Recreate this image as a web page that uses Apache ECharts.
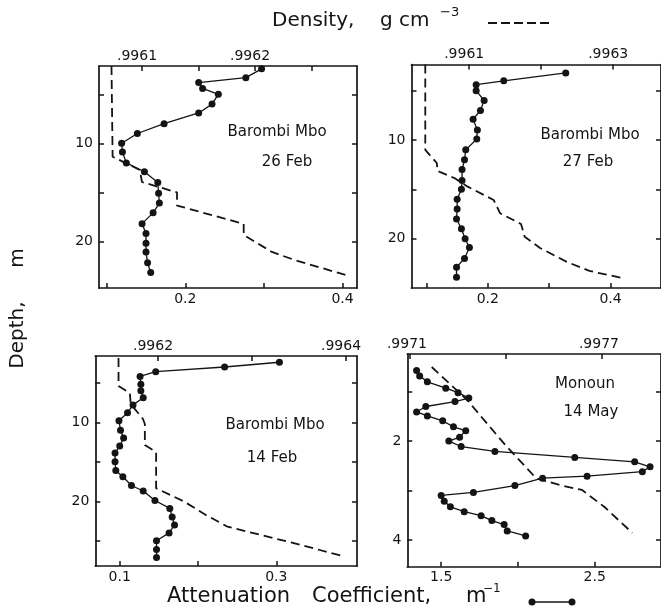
<!DOCTYPE html>
<html>
<head>
<meta charset="utf-8">
<script src="https://cdn.jsdelivr.net/npm/echarts@6/dist/echarts.min.js"></script>
<style>
  html, body { margin: 0; padding: 0; background: #ffffff; }
  #chart { width: 661px; height: 616px; }
</style>
</head>
<body>
<div id="chart"></div>
<script>
// ---- Barombi Mbo, 26 Feb ----
const feb26Depth = [2.4, 3.3, 3.8, 4.4, 5.0, 6.0, 6.9, 8.0, 9.0, 10.0, 10.9, 12.0, 12.9, 14.0, 15.1, 16.1, 17.1, 18.2, 19.2, 20.2, 21.1, 22.2, 23.2];
const feb26Atten = [0.297, 0.277, 0.217, 0.222, 0.242, 0.234, 0.217, 0.173, 0.139, 0.119, 0.120, 0.125, 0.148, 0.165, 0.166, 0.167, 0.159, 0.145, 0.150, 0.150, 0.150, 0.152, 0.156];
const feb26DensDepth = [2.11, 11.37, 12.72, 13.95, 15.02, 16.35, 18.23, 19.36, 21.09, 21.91, 23.44];
const feb26Dens = [0.996073, 0.996074, 0.996098, 0.996100, 0.996131, 0.996131, 0.996190, 0.996190, 0.996215, 0.996235, 0.996280];

// ---- Barombi Mbo, 27 Feb ----
const feb27Depth = [3.2, 4.0, 4.4, 5.0, 6.0, 7.0, 7.9, 9.0, 9.9, 11.0, 12.0, 13.0, 14.1, 15.0, 16.0, 17.0, 18.0, 19.0, 20.0, 20.9, 22.0, 22.9, 23.9];
const feb27Atten = [0.327, 0.226, 0.181, 0.181, 0.194, 0.188, 0.176, 0.183, 0.182, 0.164, 0.162, 0.158, 0.158, 0.157, 0.150, 0.150, 0.149, 0.157, 0.163, 0.170, 0.162, 0.149, 0.149];
const feb27DensDepth = [2.35, 11.01, 12.33, 13.14, 13.88, 14.73, 16.08, 17.43, 18.51, 19.80, 20.97, 22.33, 23.27, 24.01];
const feb27Dens = [0.996039, 0.996039, 0.996055, 0.996056, 0.996080, 0.996098, 0.996134, 0.996143, 0.996172, 0.996177, 0.996199, 0.996235, 0.996267, 0.996314];

// ---- Barombi Mbo, 14 Feb ----
const feb14Depth = [2.4, 3.0, 3.6, 4.2, 5.2, 6.0, 6.9, 7.8, 8.8, 9.8, 11.0, 12.0, 13.0, 13.9, 15.0, 16.1, 16.9, 18.0, 18.7, 19.9, 20.9, 22.0, 23.0, 24.0, 25.0, 26.1, 27.1];
const feb14Atten = [0.304, 0.234, 0.146, 0.126, 0.127, 0.127, 0.130, 0.117, 0.110, 0.099, 0.101, 0.105, 0.100, 0.094, 0.094, 0.095, 0.104, 0.115, 0.130, 0.145, 0.164, 0.167, 0.170, 0.163, 0.147, 0.147, 0.147];
const feb14DensDepth = [1.86, 5.41, 6.29, 7.68, 9.58, 10.22, 12.87, 13.76, 18.35, 20.05, 21.73, 23.22, 24.27, 25.53, 27.01];
const feb14Dens = [0.996158, 0.996158, 0.996170, 0.996171, 0.996184, 0.996186, 0.996186, 0.996198, 0.996198, 0.996228, 0.996251, 0.996274, 0.996310, 0.996352, 0.996399];

// ---- Monoun, 14 May ----
const may14Depth = [0.57, 0.68, 0.80, 0.93, 1.02, 1.13, 1.20, 1.30, 1.41, 1.49, 1.59, 1.71, 1.79, 1.92, 2.00, 2.11, 2.21, 2.33, 2.42, 2.52, 2.62, 2.71, 2.75, 2.90, 3.04, 3.10, 3.22, 3.33, 3.43, 3.51, 3.61, 3.69, 3.82, 3.92];
const may14Atten = [1.34, 1.36, 1.41, 1.53, 1.61, 1.68, 1.59, 1.40, 1.34, 1.41, 1.51, 1.58, 1.66, 1.62, 1.55, 1.63, 1.85, 2.37, 2.76, 2.86, 2.81, 2.45, 2.16, 1.98, 1.71, 1.50, 1.52, 1.56, 1.65, 1.76, 1.83, 1.91, 1.93, 2.05];
const may14DensDepth = [0.50, 1.17, 2.08, 2.75, 2.89, 2.99, 3.34, 3.86];
const may14Dens = [0.997168, 0.997279, 0.997398, 0.997494, 0.997568, 0.997638, 0.997709, 0.997795];

// ---- axis ticks and labels ----
const attenTicks = [[0.1, 0.2, 0.3, 0.4], [0.1, 0.2, 0.3, 0.4], [0.1, 0.2, 0.3], [1.5, 2.0, 2.5]];
const attenLabels = [[0.2, 0.4], [0.2, 0.4], [0.1, 0.3], [1.5, 2.5]];
const densTicks = [[0.9961, 0.99615, 0.9962, 0.99625], [0.9961, 0.9962, 0.9963], [0.9962, 0.9963, 0.9964], [0.9971, 0.9974, 0.9977]];
const densLabels = [[0.9961, 0.9962], [0.9961, 0.9963], [0.9962, 0.9964], [0.9971, 0.9977]];
const depthTicks = [[5, 10, 15, 20], [5, 10, 15, 20], [5, 10, 15, 20, 25], [1, 2, 3, 4]];
const depthLabels = [[10, 20], [10, 20], [10, 20], [2, 4]];
const panelTitles = [['Barombi Mbo', '26 Feb'], ['Barombi Mbo', '27 Feb'], ['Barombi Mbo', '14 Feb'], ['Monoun', '14 May']];

// ---- panel layout (pixels) and axis extents ----
const panels = [
  { grid: { left: 99, top: 66, width: 258, height: 222 },
    atten: [0.0902, 0.4184], dens: [0.99606195, 0.99629027], depth: [2.11, 24.77],
    title: [[277, 132], [287, 162]], densShift: 10,
    profile: [feb26Atten, feb26Depth], density: [feb26Dens, feb26DensDepth] },
  { grid: { left: 411.5, top: 64.5, width: 253, height: 223.5 },
    atten: [0.0756, 0.4823], dens: [0.99601986, 0.99636644], depth: [2.35, 25.0],
    title: [[590, 135], [588, 162]], densShift: 10,
    profile: [feb27Atten, feb27Depth], density: [feb27Dens, feb27DensDepth] },
  { grid: { left: 95.3, top: 356, width: 261.7, height: 210 },
    atten: [0.0688, 0.4031], dens: [0.9961333, 0.9964117], depth: [1.61, 28.19],
    title: [[275, 425], [272, 458]], densShift: 10,
    profile: [feb14Atten, feb14Depth], density: [feb14Dens, feb14DensDepth] },
  { grid: { left: 407.3, top: 354, width: 257.7, height: 212.7 },
    atten: [1.2795, 2.9314], dens: [0.9970917, 0.9978846], depth: [0.237, 4.543],
    title: [[585, 384], [591, 412]], densShift: 6,
    profile: [may14Atten, may14Depth], density: [may14Dens, may14DensDepth] }
];

const INK = '#141414';
const FONT = 'DejaVu Sans';

function zip(xs, ys) { return xs.map((x, i) => [x, ys[i]]); }

function frameAxis(o) {
  return {
    type: 'value', gridIndex: o.grid, position: o.position, min: o.min, max: o.max,
    inverse: !!o.inverse,
    axisLine: { show: true, onZero: false, lineStyle: { color: INK, width: 1.7 } },
    axisTick: { show: true, inside: true, length: 5, customValues: o.ticks, lineStyle: { color: INK, width: 1.5 } },
    axisLabel: {
      show: !!o.labels, customValues: o.labels || [], margin: o.margin || 5,
      color: INK, fontFamily: FONT, fontSize: 14, formatter: o.formatter,
      padding: o.padding || 0
    },
    splitLine: { show: false }
  };
}

const grids = [], xAxes = [], yAxes = [], series = [], graphics = [];

panels.forEach((p, g) => {
  grids.push(Object.assign({ containLabel: false, show: false }, p.grid));
  // bottom: attenuation coefficient
  xAxes.push(frameAxis({ grid: g, position: 'bottom', min: p.atten[0], max: p.atten[1],
    ticks: attenTicks[g], labels: attenLabels[g], margin: 4,
    formatter: v => v.toFixed(1) }));
  // top: density
  xAxes.push(frameAxis({ grid: g, position: 'top', min: p.dens[0], max: p.dens[1],
    ticks: densTicks[g], labels: densLabels[g], margin: 3,
    padding: [0, p.densShift, 0, 0],
    formatter: v => '.' + Math.round(v * 1e4) }));
  // left: depth
  yAxes.push(frameAxis({ grid: g, position: 'left', inverse: true, min: p.depth[0], max: p.depth[1],
    ticks: depthTicks[g], labels: depthLabels[g], margin: 6,
    formatter: v => String(v) }));
  // right: depth ticks only
  yAxes.push(frameAxis({ grid: g, position: 'right', inverse: true, min: p.depth[0], max: p.depth[1],
    ticks: depthTicks[g], labels: null }));

  series.push({
    type: 'line', xAxisIndex: 2 * g, yAxisIndex: 2 * g,
    data: zip(p.profile[0], p.profile[1]),
    symbol: 'circle', symbolSize: 7, showSymbol: true,
    lineStyle: { color: INK, width: 1.3 }, itemStyle: { color: INK },
    z: 3
  });
  series.push({
    type: 'line', xAxisIndex: 2 * g + 1, yAxisIndex: 2 * g,
    data: zip(p.density[0], p.density[1]),
    symbol: 'none',
    lineStyle: { color: INK, width: 1.8, type: [9, 5] },
    z: 2
  });

  panelTitles[g].forEach((t, k) => {
    graphics.push({ type: 'text', x: p.title[k][0], y: p.title[k][1],
      style: { text: t, fill: INK, font: '15px "DejaVu Sans"', textAlign: 'center', textVerticalAlign: 'middle' } });
  });
});

// header: Density, g cm^-3 with dashed key
graphics.push(
  { type: 'text', x: 272, y: 21, style: { text: 'Density,', fill: INK, font: '20px "DejaVu Sans"', textVerticalAlign: 'middle' } },
  { type: 'text', x: 380, y: 21, style: { text: 'g cm', fill: INK, font: '20px "DejaVu Sans"', textVerticalAlign: 'middle' } },
  { type: 'text', x: 440, y: 13, style: { text: '\u22123', fill: INK, font: '13px "DejaVu Sans"', textVerticalAlign: 'middle' } },
  { type: 'line', shape: { x1: 488, y1: 23, x2: 549, y2: 23 }, style: { stroke: INK, lineWidth: 1.8, lineDash: [9, 4] } }
);

// footer: Attenuation Coefficient, m^-1 with dot-line key
graphics.push(
  { type: 'text', x: 167, y: 597, style: { text: 'Attenuation', fill: INK, font: '21px "DejaVu Sans"', textVerticalAlign: 'middle' } },
  { type: 'text', x: 312, y: 597, style: { text: 'Coefficient,', fill: INK, font: '21px "DejaVu Sans"', textVerticalAlign: 'middle' } },
  { type: 'text', x: 466, y: 597, style: { text: 'm', fill: INK, font: '21px "DejaVu Sans"', textVerticalAlign: 'middle' } },
  { type: 'text', x: 483, y: 589, style: { text: '\u22121', fill: INK, font: '12px "DejaVu Sans"', textVerticalAlign: 'middle' } },
  { type: 'line', shape: { x1: 532, y1: 602, x2: 572, y2: 602 }, style: { stroke: INK, lineWidth: 1.3 } },
  { type: 'circle', shape: { cx: 532, cy: 602, r: 3.5 }, style: { fill: INK } },
  { type: 'circle', shape: { cx: 572, cy: 602, r: 3.5 }, style: { fill: INK } }
);

// vertical axis title: Depth, m
graphics.push(
  { type: 'text', x: 18, y: 335, rotation: Math.PI / 2,
    style: { text: 'Depth,', fill: INK, font: '20px "DejaVu Sans"', textAlign: 'center', textVerticalAlign: 'middle' } },
  { type: 'text', x: 18, y: 258, rotation: Math.PI / 2,
    style: { text: 'm', fill: INK, font: '20px "DejaVu Sans"', textAlign: 'center', textVerticalAlign: 'middle' } }
);

const chart = echarts.init(document.getElementById('chart'), null, { renderer: 'canvas' });
chart.setOption({
  backgroundColor: '#ffffff',
  animation: false,
  grid: grids,
  xAxis: xAxes,
  yAxis: yAxes,
  series: series,
  graphic: graphics
});
</script>
</body>
</html>
